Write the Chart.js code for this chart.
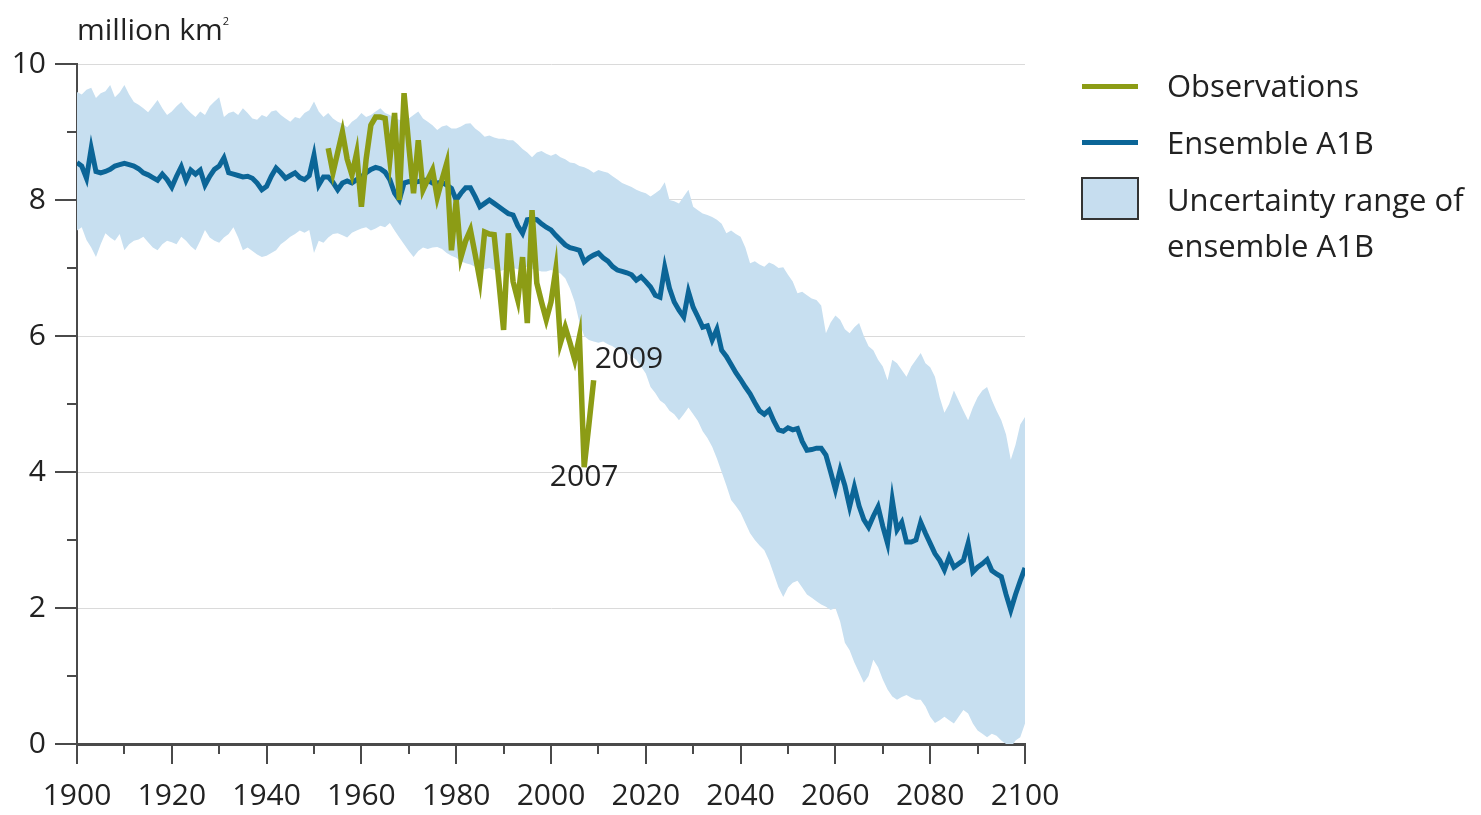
<!DOCTYPE html>
<html>
<head>
<meta charset="utf-8">
<script src="https://cdn.jsdelivr.net/npm/chart.js@4"></script>
<style>
  html, body { margin: 0; padding: 0; background: #ffffff; }
  #wrap { position: relative; width: 1481px; height: 815px; overflow: hidden; font-family: "Open Sans", sans-serif; color: #222; }
  #c { position: absolute; left: 0; top: 0; }
  .unit { position: absolute; left: 77px; top: 11px; font-size: 30px; line-height: 36px; color: #222; white-space: nowrap; }
  .unit sup { font-size: 11px; position: relative; top: -15px; vertical-align: baseline; line-height: 0; }
  .lg-line { position: absolute; left: 1082px; width: 56px; height: 5px; }
  .lg-box { position: absolute; left: 1081px; top: 177px; width: 54px; height: 39px; background: #c6ddef; border: 2px solid #333; }
  .lg-text { position: absolute; left: 1167px; font-size: 31px; line-height: 46px; color: #222; white-space: nowrap; }
</style>
</head>
<body>
<div id="wrap">
  <canvas id="c" width="1481" height="815"></canvas>
  <div class="unit">million km<sup>2</sup></div>
  <div class="lg-line" style="top:84px; background:#8c9c15;"></div>
  <div class="lg-text" style="top:62px;">Observations</div>
  <div class="lg-line" style="top:140px; background:#0b6597;"></div>
  <div class="lg-text" style="top:119px;">Ensemble A1B</div>
  <div class="lg-box"></div>
  <div class="lg-text" style="top:176px;">Uncertainty range of<br>ensemble A1B</div>
</div>
<script>
// ---------------- data ----------------
const modelStartYear = 1900;
const ensembleA1B = [
  8.55, 8.50, 8.32, 8.76, 8.42, 8.40, 8.42, 8.45, 8.50, 8.52,
  8.54, 8.52, 8.50, 8.46, 8.40, 8.37, 8.33, 8.29, 8.38, 8.30,
  8.19, 8.35, 8.49, 8.29, 8.44, 8.38, 8.44, 8.22, 8.35, 8.45,
  8.50, 8.62, 8.40, 8.38, 8.36, 8.34, 8.35, 8.32, 8.25, 8.15,
  8.20, 8.35, 8.47, 8.40, 8.32, 8.36, 8.40, 8.33, 8.30, 8.36,
  8.66, 8.22, 8.34, 8.34, 8.26, 8.15, 8.25, 8.28, 8.25, 8.30,
  8.34, 8.40, 8.45, 8.48, 8.46, 8.41, 8.30, 8.10, 8.00, 8.25,
  8.27, 8.26, 8.27, 8.29, 8.29, 8.25, 8.25, 8.26, 8.22, 8.17,
  8.00, 8.10, 8.18, 8.18, 8.05, 7.90, 7.95, 8.00, 7.95, 7.90,
  7.85, 7.80, 7.78, 7.62, 7.51, 7.71, 7.72, 7.71, 7.65, 7.60,
  7.56, 7.48, 7.41, 7.34, 7.30, 7.28, 7.26, 7.09, 7.15, 7.19,
  7.22, 7.15, 7.10, 7.02, 6.97, 6.95, 6.93, 6.90, 6.82, 6.87,
  6.80, 6.72, 6.60, 6.57, 7.01, 6.70, 6.50, 6.38, 6.28, 6.65,
  6.42, 6.28, 6.13, 6.15, 5.94, 6.10, 5.79, 5.70, 5.58, 5.46,
  5.36, 5.25, 5.15, 5.02, 4.90, 4.85, 4.91, 4.75, 4.62, 4.60,
  4.65, 4.62, 4.64, 4.45, 4.32, 4.33, 4.35, 4.35, 4.25, 4.00,
  3.74, 4.03, 3.80, 3.49, 3.78, 3.50, 3.30, 3.19, 3.35, 3.49,
  3.20, 2.95, 3.59, 3.15, 3.26, 2.97, 2.97, 3.00, 3.26, 3.10,
  2.95, 2.80, 2.70, 2.56, 2.75, 2.60, 2.65, 2.70, 2.95, 2.53,
  2.60, 2.65, 2.71, 2.55, 2.50, 2.46, 2.20, 1.97, 2.20, 2.40,
  2.59
];
const bandUpper = [
  9.59, 9.55, 9.62, 9.65, 9.50, 9.57, 9.60, 9.69, 9.51, 9.58,
  9.69, 9.55, 9.44, 9.40, 9.35, 9.29, 9.38, 9.47, 9.35, 9.25,
  9.30, 9.38, 9.44, 9.35, 9.28, 9.22, 9.30, 9.25, 9.38, 9.45,
  9.51, 9.22, 9.28, 9.30, 9.25, 9.35, 9.28, 9.20, 9.18, 9.25,
  9.22, 9.30, 9.32, 9.25, 9.20, 9.15, 9.22, 9.20, 9.28, 9.32,
  9.45, 9.30, 9.22, 9.28, 9.20, 9.15, 9.12, 9.07, 9.15, 9.20,
  9.28, 9.22, 9.25, 9.30, 9.35, 9.28, 9.25, 9.20, 9.18, 9.15,
  9.20, 9.25, 9.30, 9.20, 9.15, 9.10, 9.03, 9.08, 9.10, 9.05,
  9.05, 9.08, 9.12, 9.13, 9.05, 9.00, 8.93, 8.95, 8.92, 8.90,
  8.90, 8.88, 8.88, 8.82, 8.75, 8.70, 8.63, 8.70, 8.72, 8.68,
  8.65, 8.68, 8.63, 8.60, 8.55, 8.54, 8.50, 8.48, 8.45, 8.40,
  8.44, 8.42, 8.40, 8.35, 8.30, 8.25, 8.22, 8.19, 8.15, 8.12,
  8.10, 8.05, 8.10, 8.15, 8.26, 8.00, 7.98, 7.95, 8.05, 8.15,
  7.90, 7.85, 7.80, 7.78, 7.75, 7.71, 7.65, 7.51, 7.55, 7.50,
  7.46, 7.30, 7.07, 7.10, 7.05, 7.02, 7.08, 7.05, 7.00, 7.01,
  6.90, 6.80, 6.63, 6.65, 6.60, 6.55, 6.53, 6.45, 6.04, 6.20,
  6.30, 6.24, 6.10, 6.04, 6.13, 6.19, 6.00, 5.85, 5.79, 5.65,
  5.55, 5.35, 5.65, 5.60, 5.50, 5.40, 5.55, 5.65, 5.75, 5.60,
  5.54, 5.40, 5.10, 4.87, 5.00, 5.20, 5.05, 4.90, 4.76, 4.95,
  5.10, 5.20, 5.25, 5.06, 4.90, 4.76, 4.55, 4.18, 4.40, 4.70,
  4.81
];
const bandLower = [
  7.55, 7.60, 7.41, 7.30, 7.16, 7.35, 7.51, 7.45, 7.40, 7.50,
  7.26, 7.35, 7.40, 7.42, 7.46, 7.38, 7.30, 7.26, 7.35, 7.40,
  7.38, 7.35, 7.46, 7.40, 7.32, 7.26, 7.40, 7.56, 7.45, 7.40,
  7.37, 7.45, 7.50, 7.60, 7.45, 7.26, 7.30, 7.25, 7.20, 7.16,
  7.18, 7.22, 7.26, 7.35, 7.40, 7.46, 7.50, 7.55, 7.52, 7.56,
  7.22, 7.40, 7.37, 7.45, 7.50, 7.51, 7.48, 7.45, 7.52, 7.55,
  7.58, 7.60, 7.55, 7.58, 7.62, 7.60, 7.66, 7.55, 7.45, 7.35,
  7.25, 7.16, 7.25, 7.30, 7.28, 7.30, 7.31, 7.28, 7.22, 7.18,
  7.15, 7.10, 7.07, 7.05, 7.02, 7.00, 6.98, 7.00, 6.97, 6.95,
  6.97, 6.98, 7.00, 6.98, 7.00, 7.02, 6.99, 6.97, 6.95, 6.95,
  6.97, 6.95, 6.92, 6.85, 6.70, 6.50, 6.20, 6.00, 5.94, 5.92,
  5.90, 5.92, 5.88, 5.85, 5.80, 5.80, 5.75, 5.70, 5.65, 5.55,
  5.45, 5.25, 5.16, 5.05, 5.00, 4.90, 4.85, 4.76, 4.85, 4.95,
  4.85, 4.75, 4.60, 4.50, 4.37, 4.20, 4.00, 3.80, 3.59, 3.50,
  3.40, 3.25, 3.10, 3.00, 2.92, 2.85, 2.70, 2.50, 2.30, 2.16,
  2.30, 2.37, 2.40, 2.30, 2.20, 2.15, 2.10, 2.05, 2.02, 1.97,
  2.00, 1.80, 1.49, 1.38, 1.20, 1.05, 0.90, 1.00, 1.24, 1.13,
  0.95, 0.80, 0.70, 0.65, 0.69, 0.72, 0.68, 0.65, 0.65, 0.55,
  0.40, 0.31, 0.35, 0.40, 0.35, 0.30, 0.40, 0.50, 0.45, 0.30,
  0.20, 0.15, 0.10, 0.15, 0.12, 0.05, 0.00, -0.05, 0.05, 0.10,
  0.30
];
const obsStartYear = 1953;
const observations = [
  8.76, 8.40, 8.70, 9.00, 8.60, 8.37, 8.69,
  7.90, 8.60, 9.10, 9.22, 9.22, 9.20, 8.59, 9.28, 8.00, 9.57,
  8.80, 8.10, 8.88, 8.15, 8.30, 8.44, 8.04, 8.30, 8.54, 7.26,
  8.00, 7.16, 7.40, 7.56, 7.20, 6.82, 7.53, 7.50, 7.49, 6.80,
  6.09, 7.51, 6.80, 6.53, 7.16, 6.19, 7.85, 6.78, 6.50, 6.24,
  6.50, 6.97, 5.90, 6.13, 5.90, 5.65, 5.99, 4.07, 4.70, 5.35
];
const xTickLabels = ['1900','1920','1940','1960','1980','2000','2020','2040','2060','2080','2100'];
const yTickLabels = ['0','2','4','6','8','10'];
const pointLabels = [ { year: 2009, text: '2009', align: 'left', dx: 1, dy: -21 },
                      { year: 2007, text: '2007', align: 'center', dx: 0, dy: 10 } ];

// ---------------- helpers ----------------
function toXY(start, arr) { return arr.map((v, i) => ({ x: start + i, y: v })); }
const obsXY = toXY(obsStartYear, observations);
const FONT = '"Open Sans", sans-serif';

const tickPlugin = {
  id: 'customTicks',
  afterDraw(chart) {
    const ctx = chart.ctx, xs = chart.scales.x, ys = chart.scales.y;
    const axisX = chart.chartArea.left, axisY = chart.chartArea.bottom;
    ctx.save();
    ctx.strokeStyle = '#4a4a4a';
    ctx.lineWidth = 2;
    ys.ticks.forEach(t => {
      const py = Math.round(ys.getPixelForValue(t.value));
      const len = (t.value % 2 === 0) ? 22 : 10;
      ctx.beginPath(); ctx.moveTo(axisX - len, py); ctx.lineTo(axisX, py); ctx.stroke();
    });
    xs.ticks.forEach(t => {
      const px = Math.round(xs.getPixelForValue(t.value));
      const len = (t.value % 20 === 0) ? 20 : 10;
      ctx.beginPath(); ctx.moveTo(px, axisY); ctx.lineTo(px, axisY + len); ctx.stroke();
    });
    ctx.restore();
  },
  afterDatasetsDraw(chart) {
    const ctx = chart.ctx, xs = chart.scales.x, ys = chart.scales.y;
    ctx.save();
    ctx.font = '30px ' + FONT;
    ctx.fillStyle = '#222';
    ctx.textBaseline = 'middle';
    pointLabels.forEach(p => {
      const v = observations[p.year - obsStartYear];
      const px = xs.getPixelForValue(p.year), py = ys.getPixelForValue(v);
      ctx.textAlign = p.align;
      ctx.fillText(p.text, px + p.dx, py + p.dy);
    });
    ctx.restore();
  }
};

new Chart(document.getElementById('c'), {
  type: 'line',
  data: {
    datasets: [
      { label: 'Uncertainty upper', data: toXY(modelStartYear, bandUpper), borderWidth: 0, pointRadius: 0,
        fill: '+1', backgroundColor: '#c7dff0', borderColor: 'rgba(0,0,0,0)', order: 3 },
      { label: 'Uncertainty lower', data: toXY(modelStartYear, bandLower), borderWidth: 0, pointRadius: 0,
        fill: false, borderColor: 'rgba(0,0,0,0)', order: 3 },
      { label: 'Ensemble A1B', data: toXY(modelStartYear, ensembleA1B), borderWidth: 5, pointRadius: 0,
        borderColor: '#0b6597', fill: false, order: 2, borderJoinStyle: 'miter' },
      { label: 'Observations', data: obsXY, borderWidth: 5.5, pointRadius: 0,
        borderColor: '#8c9c15', fill: false, order: 1, borderJoinStyle: 'miter' }
    ]
  },
  options: {
    responsive: false,
    animation: false,
    devicePixelRatio: 1,
    layout: { padding: { left: 0, top: 64, right: 456, bottom: 0 } },
    plugins: { legend: { display: false }, tooltip: { enabled: false } },
    scales: {
      x: {
        type: 'linear', min: 1900, max: 2100,
        afterFit(s) { s.height = 71; },
        grid: { color: 'rgba(0,0,0,0)', drawTicks: false },
        border: { color: '#4a4a4a', width: 3 },
        ticks: {
          stepSize: 10, autoSkip: false, maxRotation: 0, padding: 34,
          color: '#222', font: { family: FONT, size: 30 },
          callback: (v) => { const s = String(v); return xTickLabels.includes(s) ? s : ''; }
        }
      },
      y: {
        min: 0, max: 10,
        afterFit(s) { s.width = 77; },
        grid: { drawTicks: false, lineWidth: 1,
          color: (c) => (c.tick && c.tick.value % 2 === 0 && c.tick.value !== 0) ? '#dadada' : 'rgba(0,0,0,0)' },
        border: { color: '#4a4a4a', width: 2 },
        ticks: {
          stepSize: 1, autoSkip: false, padding: 31,
          color: '#222', font: { family: FONT, size: 30 },
          callback: (v) => { const s = String(v); return yTickLabels.includes(s) ? s : ''; }
        }
      }
    }
  },
  plugins: [tickPlugin]
});
</script>
</body>
</html>
